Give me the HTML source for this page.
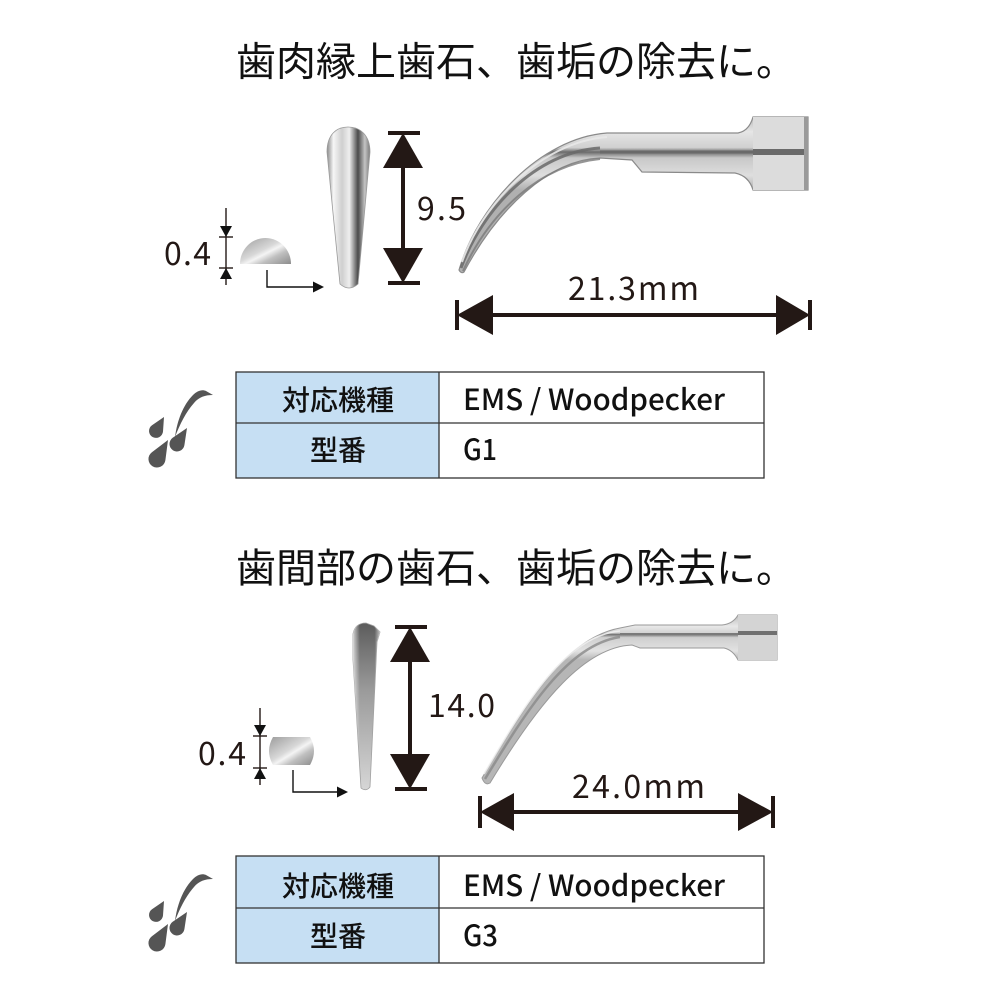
<!DOCTYPE html>
<html>
<head>
<meta charset="utf-8">
<style>
html,body{margin:0;padding:0;background:#fff;}
svg{display:block;}
.jp{font-family:"Liberation Sans","Noto Sans CJK JP",sans-serif;}
.cjk{font-family:"Noto Sans CJK JP","Liberation Sans",sans-serif;}
.num{font-family:"Noto Sans CJK JP","Liberation Sans",sans-serif;font-weight:400;}
</style>
</head>
<body>
<svg width="1000" height="1000" viewBox="0 0 1000 1000" xmlns="http://www.w3.org/2000/svg">
<defs>
  <linearGradient id="prof1" x1="0" y1="0" x2="1" y2="0">
    <stop offset="0" stop-color="#8a8a8a"/>
    <stop offset="0.15" stop-color="#f6f6f6"/>
    <stop offset="0.35" stop-color="#cfcfcf"/>
    <stop offset="0.52" stop-color="#efefef"/>
    <stop offset="0.72" stop-color="#4a4a4a"/>
    <stop offset="0.88" stop-color="#c4c4c4"/>
    <stop offset="1" stop-color="#7a7a7a"/>
  </linearGradient>
  <linearGradient id="prof2" x1="0" y1="0" x2="0" y2="1">
    <stop offset="0" stop-color="#5c5c5c"/>
    <stop offset="0.4" stop-color="#9a9a9a"/>
    <stop offset="1" stop-color="#d6d6d6"/>
  </linearGradient>
  <linearGradient id="prof2h" x1="0" y1="0" x2="1" y2="0">
    <stop offset="0" stop-color="#ffffff" stop-opacity="0.7"/>
    <stop offset="0.25" stop-color="#ffffff" stop-opacity="0"/>
    <stop offset="0.8" stop-color="#ffffff" stop-opacity="0"/>
    <stop offset="1" stop-color="#ffffff" stop-opacity="0.6"/>
  </linearGradient>
  <linearGradient id="dome" x1="0" y1="0" x2="1" y2="1">
    <stop offset="0" stop-color="#9c9c9c"/>
    <stop offset="0.45" stop-color="#d8d8d8"/>
    <stop offset="0.55" stop-color="#f4f4f4"/>
    <stop offset="0.7" stop-color="#c0c0c0"/>
    <stop offset="1" stop-color="#8c8c8c"/>
  </linearGradient>
  <linearGradient id="shaft1" x1="0" y1="117" x2="0" y2="190" gradientUnits="userSpaceOnUse">
    <stop offset="0" stop-color="#b8b8b8"/>
    <stop offset="0.2" stop-color="#e6e6e6"/>
    <stop offset="0.42" stop-color="#d0d0d0"/>
    <stop offset="0.48" stop-color="#6a6a6a"/>
    <stop offset="0.56" stop-color="#c8c8c8"/>
    <stop offset="0.8" stop-color="#dedede"/>
    <stop offset="1" stop-color="#b0b0b0"/>
  </linearGradient>
  <linearGradient id="shaft2" x1="0" y1="615" x2="0" y2="660" gradientUnits="userSpaceOnUse">
    <stop offset="0" stop-color="#bcbcbc"/>
    <stop offset="0.25" stop-color="#e8e8e8"/>
    <stop offset="0.4" stop-color="#d2d2d2"/>
    <stop offset="0.43" stop-color="#707070"/>
    <stop offset="0.5" stop-color="#cfcfcf"/>
    <stop offset="0.8" stop-color="#e2e2e2"/>
    <stop offset="1" stop-color="#b6b6b6"/>
  </linearGradient>
</defs>

<rect x="0" y="0" width="1000" height="1000" fill="#ffffff"/>

<!-- ============ SECTION 1 ============ -->
<text x="236" y="75.5" class="jp" font-size="40" fill="#111" textLength="560" lengthAdjust="spacingAndGlyphs">歯肉縁上歯石、歯垢の除去に。</text>

<!-- small dim 0.4 -->
<text x="164" y="265" class="num" font-size="32" fill="#231815" textLength="47" lengthAdjust="spacing">0.4</text>
<line x1="226" y1="208" x2="226" y2="285" stroke="#231815" stroke-width="1.4"/>
<line x1="219" y1="237" x2="233" y2="237" stroke="#231815" stroke-width="1.4"/>
<line x1="219" y1="268" x2="233" y2="268" stroke="#231815" stroke-width="1.4"/>
<polygon points="220,226 232,226 226,237" fill="#111"/>
<polygon points="220,279 232,279 226,268" fill="#111"/>
<!-- dome -->
<path d="M240,264 A25.5,26 0 0 1 291,264 Z" fill="url(#dome)"/>
<!-- L arrow -->
<path d="M267,270 V287 H314" fill="none" stroke="#111" stroke-width="1.4"/>
<polygon points="313,281.5 313,292.5 324,287" fill="#111"/>
<!-- side profile -->
<path d="M327,152 C327,134 337,127 348,127 C360,127 370,135 370,152 L358,284 Q349,292 340,284 Z" fill="url(#prof1)" stroke="#9a9a9a" stroke-width="0.8"/>
<!-- 9.5 dimension -->
<line x1="388" y1="133" x2="420" y2="133" stroke="#231815" stroke-width="4"/>
<line x1="388" y1="283" x2="420" y2="283" stroke="#231815" stroke-width="4"/>
<polygon points="403,133 383,168 423,168" fill="#231815"/>
<polygon points="403,283 383,248 423,248" fill="#231815"/>
<line x1="403" y1="165" x2="403" y2="251" stroke="#231815" stroke-width="4"/>
<text x="417" y="220" class="num" font-size="32" fill="#231815" textLength="49" lengthAdjust="spacing">9.5</text>

<!-- curved tip 1 -->
<path d="M459,270 C478,205 540,138 607,133 L738,133 Q749,131 753,117 L808,117 L808,190 L753,190 Q749,176 735,173 L642,172 L632,160 L600,158 C548,160 497,210 464,272 Q461,274 459,270 Z" fill="url(#shaft1)" stroke="#8a8a8a" stroke-width="1.2"/>
<path d="M461,268 C482,210 535,152 600,148" fill="none" stroke="#6a6a6a" stroke-width="3" opacity="0.85"/>
<path d="M462,262 C482,205 540,142 607,137" fill="none" stroke="#e8e8e8" stroke-width="2" opacity="0.9"/>
<path d="M463,271 C490,212 540,165 600,159" fill="none" stroke="#7a7a7a" stroke-width="2" opacity="0.8"/>
<rect x="753" y="117" width="55" height="73" fill="#dcdcdc"/>
<rect x="753" y="149" width="55" height="6" fill="#6a6a6a"/>
<rect x="804" y="117" width="4" height="73" fill="#9a9a9a"/>
<line x1="600" y1="152" x2="753" y2="152" stroke="#6a6a6a" stroke-width="3"/>

<!-- 21.3mm dimension -->
<line x1="457" y1="300" x2="457" y2="330" stroke="#231815" stroke-width="4"/>
<line x1="810" y1="300" x2="810" y2="330" stroke="#231815" stroke-width="4"/>
<polygon points="457,315 493,295 493,335" fill="#231815"/>
<polygon points="810,315 776,295 776,335" fill="#231815"/>
<line x1="490" y1="315" x2="780" y2="315" stroke="#231815" stroke-width="4"/>
<text x="568" y="300" class="num" font-size="32" fill="#231815" textLength="131" lengthAdjust="spacing">21.3mm</text>

<!-- icon 1 -->
<g transform="translate(0,-484)" fill="#555555">
  <path d="M175,921 C177,905 183,889 193,879 C197,875 202,873 206,875 L213,879 C205,879 199,881 194,887 C186,896 180,908 175,921 Z"/>
  <path d="M164,901 L163,915.5 A7,7 0 1 1 152,909.2 Z"/>
  <path d="M168,924 L165.4,944.1 A8.5,8.5 0 1 1 151.9,936.2 Z"/>
  <path d="M187,912 L184.4,929.1 A7.5,7.5 0 1 1 172.7,921.8 Z"/>
</g>

<!-- table 1 -->
<rect x="236" y="372" width="203" height="106" fill="#c6dff3"/>
<rect x="236" y="372" width="528" height="106" fill="none" stroke="#333" stroke-width="1.3"/>
<line x1="439" y1="372" x2="439" y2="478" stroke="#333" stroke-width="1.3"/>
<line x1="236" y1="423" x2="764" y2="423" stroke="#333" stroke-width="1.3"/>
<text x="338" y="410" class="cjk" font-size="28" font-weight="500" fill="#111" text-anchor="middle">対応機種</text>
<text x="338" y="460" class="cjk" font-size="28" font-weight="500" fill="#111" text-anchor="middle">型番</text>
<text x="463" y="410" class="cjk" font-size="29" font-weight="500" fill="#111" textLength="262" lengthAdjust="spacingAndGlyphs">EMS / Woodpecker</text>
<text x="463" y="460" class="cjk" font-size="29" font-weight="500" fill="#111" textLength="34" lengthAdjust="spacingAndGlyphs">G1</text>

<!-- ============ SECTION 2 ============ -->
<text x="236" y="582" class="jp" font-size="40" fill="#111" textLength="560" lengthAdjust="spacingAndGlyphs">歯間部の歯石、歯垢の除去に。</text>

<!-- small dim 0.4 -->
<text x="198" y="765" class="num" font-size="32" fill="#231815" textLength="48" lengthAdjust="spacing">0.4</text>
<line x1="260" y1="708" x2="260" y2="785" stroke="#231815" stroke-width="1.4"/>
<line x1="253" y1="736" x2="267" y2="736" stroke="#231815" stroke-width="1.4"/>
<line x1="253" y1="768" x2="267" y2="768" stroke="#231815" stroke-width="1.4"/>
<polygon points="254,725 266,725 260,736" fill="#111"/>
<polygon points="254,779 266,779 260,768" fill="#111"/>
<!-- barrel -->
<path d="M273,737 L310,737 Q318,751 310,765 L273,765 Q265,751 273,737 Z" fill="url(#dome)"/>
<!-- L arrow -->
<path d="M293,770 V792 H338" fill="none" stroke="#111" stroke-width="1.4"/>
<polygon points="337,786.5 337,797.5 348,792" fill="#111"/>
<!-- side profile 2 -->
<path d="M353,634 Q355,623 366,623 L374,626 L380,632 L377,642 L370,787 Q366,792 361,788 L353,660 Z" fill="url(#prof2)" stroke="#a0a0a0" stroke-width="0.8"/>
<path d="M353,634 Q355,623 366,623 L374,626 L380,632 L377,642 L370,787 Q366,792 361,788 L353,660 Z" fill="url(#prof2h)"/>
<!-- 14.0 dimension -->
<line x1="395" y1="627" x2="427" y2="627" stroke="#231815" stroke-width="4"/>
<line x1="395" y1="789" x2="427" y2="789" stroke="#231815" stroke-width="4"/>
<polygon points="410,627 390,662 430,662" fill="#231815"/>
<polygon points="410,789 390,754 430,754" fill="#231815"/>
<line x1="410" y1="660" x2="410" y2="757" stroke="#231815" stroke-width="4"/>
<text x="428" y="717" class="num" font-size="32" fill="#231815" textLength="67" lengthAdjust="spacing">14.0</text>

<!-- curved tip 2 -->
<path d="M482,778 C525,705 565,638 620,628 L635,625 L722,625 Q733,624 738,615 L777,615 L777,660 L738,660 Q733,650 724,648 L640,648 L632,645 C585,647 540,700 490,783 Q485,786 482,778 Z" fill="url(#shaft2)" stroke="#9a9a9a" stroke-width="1"/>
<path d="M485,779 C528,708 568,645 620,637" fill="none" stroke="#8a8a8a" stroke-width="2.5" opacity="0.8"/>
<path d="M484,774 C526,702 566,636 620,631" fill="none" stroke="#efefef" stroke-width="1.6" opacity="0.9"/>
<rect x="738" y="615" width="39" height="45" fill="#d4d4d4"/>
<rect x="738" y="631" width="39" height="4" fill="#707070"/>
<line x1="620" y1="634" x2="738" y2="634" stroke="#7a7a7a" stroke-width="2"/>

<!-- 24.0mm dimension -->
<line x1="480" y1="796" x2="480" y2="828" stroke="#231815" stroke-width="4"/>
<line x1="773" y1="796" x2="773" y2="828" stroke="#231815" stroke-width="4"/>
<polygon points="480,812 514,793 514,831" fill="#231815"/>
<polygon points="773,812 738,793 738,831" fill="#231815"/>
<line x1="510" y1="812" x2="742" y2="812" stroke="#231815" stroke-width="4"/>
<text x="572" y="798" class="num" font-size="32" fill="#231815" textLength="133" lengthAdjust="spacing">24.0mm</text>

<!-- icon 2 -->
<g fill="#555555">
  <path d="M175,921 C177,905 183,889 193,879 C197,875 202,873 206,875 L213,879 C205,879 199,881 194,887 C186,896 180,908 175,921 Z"/>
  <path d="M164,901 L163,915.5 A7,7 0 1 1 152,909.2 Z"/>
  <path d="M168,924 L165.4,944.1 A8.5,8.5 0 1 1 151.9,936.2 Z"/>
  <path d="M187,912 L184.4,929.1 A7.5,7.5 0 1 1 172.7,921.8 Z"/>
</g>

<!-- table 2 -->
<rect x="236" y="856" width="203" height="107" fill="#c6dff3"/>
<rect x="236" y="856" width="528" height="107" fill="none" stroke="#333" stroke-width="1.3"/>
<line x1="439" y1="856" x2="439" y2="963" stroke="#333" stroke-width="1.3"/>
<line x1="236" y1="908" x2="764" y2="908" stroke="#333" stroke-width="1.3"/>
<text x="338" y="896" class="cjk" font-size="28" font-weight="500" fill="#111" text-anchor="middle">対応機種</text>
<text x="338" y="946" class="cjk" font-size="28" font-weight="500" fill="#111" text-anchor="middle">型番</text>
<text x="463" y="896" class="cjk" font-size="29" font-weight="500" fill="#111" textLength="262" lengthAdjust="spacingAndGlyphs">EMS / Woodpecker</text>
<text x="463" y="946" class="cjk" font-size="29" font-weight="500" fill="#111" textLength="35" lengthAdjust="spacingAndGlyphs">G3</text>
</svg>
</body>
</html>
